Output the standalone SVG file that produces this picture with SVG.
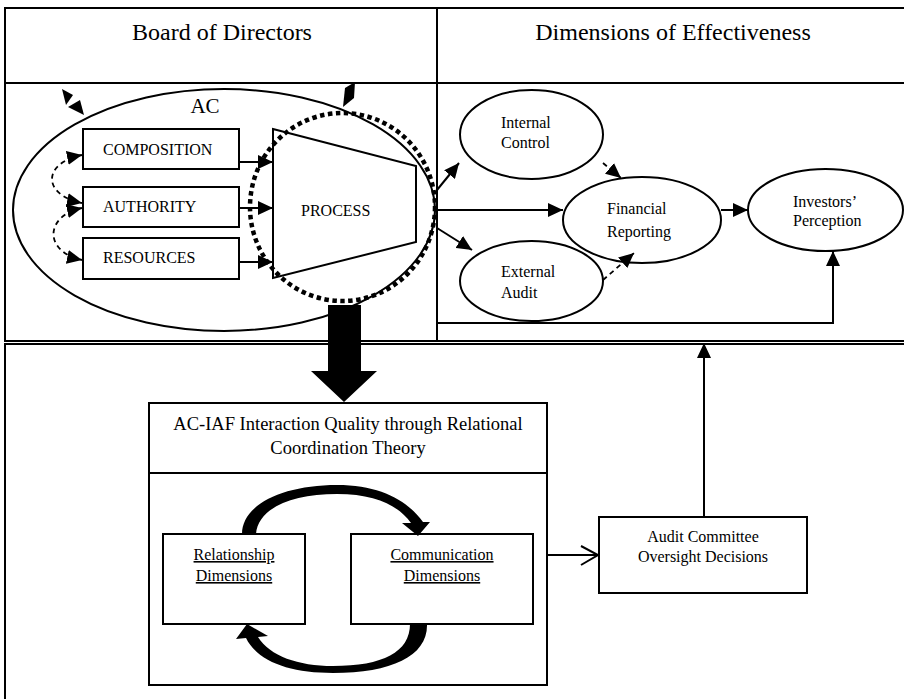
<svg xmlns="http://www.w3.org/2000/svg" width="904" height="699" viewBox="0 0 904 699">
<style>
text { font-family: "Liberation Serif", "Times New Roman", serif; fill: #000; }
.h { font-size: 24px; text-anchor: middle; }
.s { font-size: 16px; }
.c { text-anchor: middle; }
.u { text-decoration: underline; }
.t { font-size: 18.5px; text-anchor: middle; }
.ac { font-size: 21px; text-anchor: middle; }
.frame { fill: none; stroke: #000; stroke-width: 2; }
.box { fill: #fff; stroke: #000; stroke-width: 2; }
.ell { fill: #fff; stroke: #000; stroke-width: 2; }
.ln { fill: none; stroke: #000; stroke-width: 2; }
.dash { fill: none; stroke: #000; stroke-width: 1.8; stroke-dasharray: 5 4; }
.solid { fill: #000; stroke: none; }
</style>
<defs>
<marker id="ah" markerUnits="userSpaceOnUse" markerWidth="16" markerHeight="14" refX="15" refY="7" orient="auto-start-reverse" viewBox="0 0 16 14">
<path d="M0,0 L15,7 L0,14 z" fill="#000"/>
</marker>
</defs>

<g id="frames">
<rect class="frame" x="5" y="8" width="905" height="333"/>
<line class="ln" x1="5" y1="83" x2="910" y2="83"/>
<line class="ln" x1="437" y1="8" x2="437" y2="341"/>
<rect class="frame" x="5" y="344" width="905" height="400"/>
<text class="h" x="222" y="40">Board of Directors</text>
<text class="h" x="673" y="40">Dimensions of Effectiveness</text>
</g>

<g id="ac">
<ellipse cx="224" cy="210" rx="211" ry="121" fill="none" stroke="#000" stroke-width="2"/>
<text class="ac" x="205" y="113">AC</text>
</g>

<g id="composition">
<rect class="box" x="83" y="129" width="156" height="40"/>
<text class="s" x="103" y="155">COMPOSITION</text>
</g>
<g id="authority">
<rect class="box" x="83" y="187" width="156" height="40"/>
<text class="s" x="103" y="212">AUTHORITY</text>
</g>
<g id="resources">
<rect class="box" x="83" y="238" width="156" height="41"/>
<text class="s" x="103" y="263">RESOURCES</text>
</g>

<g id="process">
<polygon class="box" points="273,129 416,166 416,242 273,278"/>
<text class="s" x="301" y="216">PROCESS</text>
<ellipse cx="342.5" cy="207" rx="92.5" ry="94" fill="none" stroke="#000" stroke-width="4.5" stroke-dasharray="4.5 3.5"/>
</g>

<g id="internal-control">
<ellipse class="ell" cx="531.5" cy="134.5" rx="71.5" ry="44.5"/>
<text class="s" x="501" y="128">Internal</text>
<text class="s" x="501" y="148">Control</text>
</g>
<g id="financial-reporting">
<ellipse class="ell" cx="642" cy="220" rx="79" ry="43"/>
<text class="s" x="607" y="214">Financial</text>
<text class="s" x="607" y="237">Reporting</text>
</g>
<g id="external-audit">
<ellipse class="ell" cx="531.5" cy="281" rx="71.5" ry="40"/>
<text class="s" x="501" y="277">External</text>
<text class="s" x="501" y="298">Audit</text>
</g>
<g id="investors-perception">
<ellipse class="ell" cx="825.5" cy="210" rx="77.5" ry="41"/>
<text class="s" x="793" y="207">Investors’</text>
<text class="s" x="793" y="226">Perception</text>
</g>

<g id="ac-iaf">
<rect class="box" x="149" y="403" width="398" height="282"/>
<line class="ln" x1="149" y1="473" x2="547" y2="473"/>
<text class="t" x="348" y="430">AC-IAF Interaction Quality through Relational</text>
<text class="t" x="348" y="454">Coordination Theory</text>
</g>
<g id="relationship">
<rect class="box" x="163" y="534" width="142" height="90"/>
<text class="s c u" x="234" y="560">Relationship</text>
<text class="s c u" x="234" y="581">Dimensions</text>
</g>
<g id="communication">
<rect class="box" x="351" y="534" width="182" height="90"/>
<text class="s c u" x="442" y="560">Communication</text>
<text class="s c u" x="442" y="581">Dimensions</text>
</g>
<g id="oversight">
<rect class="box" x="599" y="517" width="208" height="76"/>
<text class="s c" x="703" y="542">Audit Committee</text>
<text class="s c" x="703" y="562">Oversight Decisions</text>
</g>

<g id="connectors">
<line class="ln" x1="239" y1="162" x2="273" y2="162" marker-end="url(#ah)"/>
<line class="ln" x1="239" y1="208" x2="273" y2="208" marker-end="url(#ah)"/>
<line class="ln" x1="239" y1="262" x2="273" y2="262" marker-end="url(#ah)"/>
<path class="dash" d="M82,155 C42,163 42,195 82,203" marker-start="url(#ah)" marker-end="url(#ah)"/>
<path class="dash" d="M82,208 C44,216 44,252 82,260" marker-start="url(#ah)" marker-end="url(#ah)"/>
<polygon class="solid" points="62,89 73,95 66,105"/>
<polygon class="solid" points="84,115 80,100 68,107"/>
<polygon class="solid" points="345,88 355,82 354,98 343,107"/>
<line class="ln" x1="437" y1="190" x2="459" y2="163" marker-end="url(#ah)"/>
<line class="ln" x1="437" y1="210" x2="563" y2="210" marker-end="url(#ah)"/>
<line class="ln" x1="437" y1="228" x2="472" y2="250" marker-end="url(#ah)"/>
<path class="dash" d="M603,163 L621,178" marker-end="url(#ah)"/>
<path class="dash" d="M603,280 L634,253" marker-end="url(#ah)"/>
<line class="ln" x1="721" y1="210" x2="748" y2="210" marker-end="url(#ah)"/>
<path class="ln" d="M437,323 H833 V251" marker-end="url(#ah)"/>
<polygon class="solid" points="328,305 361,305 361,371 377,371 344,402 311,371 328,371"/>
<path class="solid" d="M242,534 C242,505 282,485 337,485 C380,485 407,500 423,522 L430,522 L418,536 L402,523 L411,523 C398,505 375,494 337,494 C292,494 258,508 256,534 Z"/>
<path class="solid" d="M410,624 L427,624 C428,656 392,673 333,673 C290,673 258,662 246,638 L236,639 L247,624 L268,636 L258,637 C270,656 298,666 333,666 C383,666 410,652 410,624 Z"/>
<line class="ln" x1="547" y1="555" x2="597" y2="555"/>
<polyline class="ln" points="581,546 598,555 581,565"/>
<line class="ln" x1="704" y1="517" x2="704" y2="343" marker-end="url(#ah)"/>
</g>
</svg>
